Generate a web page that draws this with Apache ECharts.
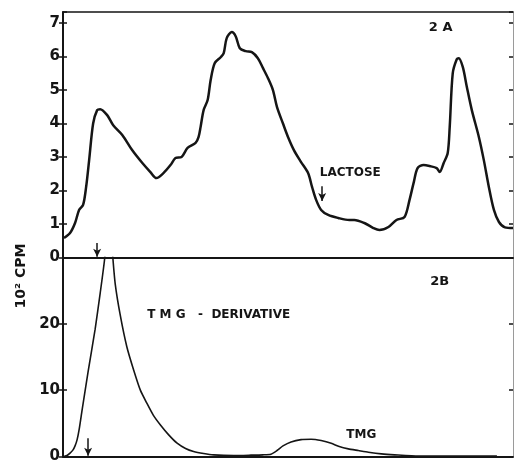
<!DOCTYPE html>
<html>
<head>
<meta charset="utf-8">
<script src="https://cdn.jsdelivr.net/npm/echarts@6/dist/echarts.min.js"></script>
<style>
html,body{margin:0;padding:0;background:#fff;}
#main{width:514px;height:464px;}
</style>
</head>
<body>
<div id="main"></div>
<script>
// fraction number (x) and counts, 10^2 CPM
// 2A: lactose elution profile
var topX=[0.25,1.75,3,4,5,5.75,6.5,7.5,8.5,9.25,11,12.5,14.75,17.25,19.75,21.75,23.25,25,26.75,28,29.5,31,33,33.75,34.25,35,36,36.75,37.75,39.25,40,40.75,42,43,44,45.5,47,48.5,49.75,51,52.25,53.25,54.75,56,57.5,59.25,61,62,63,64.25,66,68.5,71.25,72.5,75,77.25,78.75,81,83,85,86.25,87.25,88.25,89.75,91.25,93,93.75,94.75,95.75,96.25,97,98,98.5,99.5,100.5,101.75,103.5,104.75,106,107.25,108.5,110,112];
var topY=[0.58,0.73,1.03,1.42,1.57,2.1,2.9,4.0,4.4,4.43,4.25,3.95,3.66,3.2,2.82,2.55,2.37,2.52,2.76,2.97,3.0,3.27,3.42,3.6,3.9,4.4,4.7,5.3,5.8,5.98,6.1,6.55,6.73,6.6,6.25,6.16,6.13,5.95,5.66,5.36,5.0,4.5,4.0,3.6,3.2,2.85,2.52,2.1,1.72,1.42,1.27,1.18,1.12,1.12,1.03,0.88,0.82,0.91,1.12,1.21,1.72,2.22,2.67,2.76,2.73,2.67,2.55,2.82,3.12,3.9,5.5,5.92,5.95,5.69,5.1,4.4,3.6,2.9,2.1,1.42,1.06,0.9,0.88];

// 2B: TMG-derivative (off scale at the top) and TMG
var botX=[0.25,1,1.75,2.5,3,3.5,4,4.75,6.25,8,9.25,10.4,11.4,12.4,13,14.25,15.9,17.6,19.25,20.9,22.5,24.25,26.25,28.4,30.5,32.5,35,37.5,42.5,46.75,49.75,51.75,53.25,54.75,56.75,59.25,61.75,64.25,66.75,68.75,71,73.5,76,79.25,82.5,88.5,108];
var botY=[0,0.15,0.5,1.0,1.6,2.5,4.0,7.0,12.8,19.2,24.6,30,38,30,26,21.3,16.5,13,10,8,6.2,4.75,3.3,2.0,1.2,0.75,0.45,0.25,0.15,0.2,0.25,0.35,0.9,1.6,2.2,2.55,2.6,2.4,2.0,1.5,1.15,0.9,0.65,0.4,0.25,0.05,0.05];

function pairs(xs,ys){
    var out=[];
    for(var i=0;i<xs.length;i++) out.push([xs[i],ys[i]]);
    return out;
}

var font='DejaVu Sans';
var ink='#151515';

function txt(label,coord,size){
    return {coord:coord,symbolSize:0,
        label:{show:true,position:'inside',formatter:label,color:ink,fontFamily:font,fontWeight:'bold',fontSize:size||11}};
}
function arrow(x,y1,y2){
    return [{coord:[x,y1]},{coord:[x,y2]}];
}

var chart=echarts.init(document.getElementById('main'));

var leftAxis=function(grid,max){
    return {type:'value',gridIndex:grid,position:'left',min:0,max:max,interval:grid==0?1:10,
        axisLine:{show:true,onZero:false,lineStyle:{color:ink,width:2}},
        axisTick:{show:true,length:4,lineStyle:{color:ink,width:1.5}},
        axisLabel:{show:true,margin:3,color:ink,fontFamily:font,fontWeight:'bold',fontSize:15,showMaxLabel:false,
            formatter:function(v){return (v%1===0)?String(v):'';}},
        splitLine:{show:false}};
};
var innerAxis=function(grid,max,pos){
    return {type:'value',gridIndex:grid,position:pos,min:0,max:max,interval:grid==0?1:10,
        axisLine:{show:pos=='right',onZero:false,lineStyle:{color:'#9a9a9a',width:1}},
        axisTick:{show:true,inside:true,length:4,lineStyle:{color:ink,width:1.5}},
        axisLabel:{show:false},splitLine:{show:false}};
};
var flatX=function(grid,pos,w){
    return {type:'value',gridIndex:grid,min:0,max:112,position:pos,
        axisLine:{onZero:false,lineStyle:{color:ink,width:w}},
        axisTick:{show:false},axisLabel:{show:false},splitLine:{show:false}};
};

var option={
    backgroundColor:'#fff',
    animation:false,
    grid:[
        {left:63,top:12,width:450,height:245.5},
        {left:63,top:257.5,width:450,height:201}
    ],
    xAxis:[
        flatX(0,'bottom',2),
        flatX(0,'top',1.5),
        flatX(1,'bottom',2)
    ],
    yAxis:[
        leftAxis(0,7.33),
        innerAxis(0,7.33,'left'),
        innerAxis(0,7.33,'right'),
        leftAxis(1,30),
        innerAxis(1,30,'left'),
        innerAxis(1,30,'right')
    ],
    graphic:[
        {type:'text',x:21,y:276,rotation:Math.PI/2,
            style:{text:'10² CPM',fill:ink,font:'bold 14px "DejaVu Sans"',textAlign:'center',textVerticalAlign:'middle'}}
    ],
    series:[
        {name:'2A',type:'line',xAxisIndex:0,yAxisIndex:0,data:pairs(topX,topY),smooth:0.3,showSymbol:false,
            lineStyle:{color:ink,width:2.5},
            markPoint:{data:[txt('2 A',[94,6.85],13),txt('LACTOSE',[71.5,2.52],12)]},
            markLine:{silent:true,symbol:['none','arrow'],symbolSize:[6,8],label:{show:false},
                lineStyle:{color:ink,width:1.5,type:'solid'},
                data:[arrow(64.5,2.13,1.69),arrow(8.5,0.43,0.02)]}},
        {name:'2B',type:'line',xAxisIndex:2,yAxisIndex:3,data:pairs(botX,botY),smooth:0.2,showSymbol:false,clip:true,
            lineStyle:{color:ink,width:1.6},
            markPoint:{data:[txt('2B',[93.75,26.3],13),txt('T M G   -  DERIVATIVE',[38.75,21.4],12),txt('TMG',[74.25,3.2],12)]},
            markLine:{silent:true,symbol:['none','arrow'],symbolSize:[6,8],label:{show:false},
                lineStyle:{color:ink,width:1.5,type:'solid'},
                data:[arrow(6.25,2.75,0.1)]}}
    ]
};
chart.setOption(option);
</script>
</body>
</html>
